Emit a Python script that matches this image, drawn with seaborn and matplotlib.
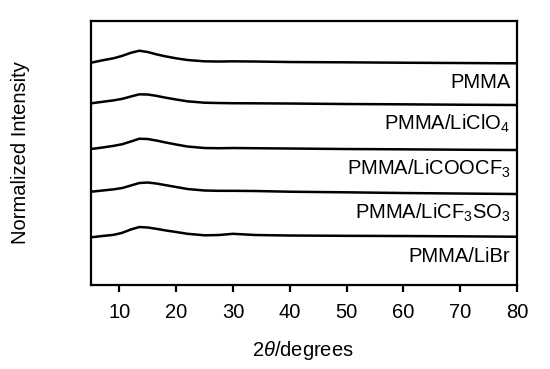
import numpy as np
import pandas as pd
import matplotlib
matplotlib.use("Agg")
import matplotlib.pyplot as plt
import seaborn as sns

# ── Data (stacked traces) ─────────────────────────────────────────────────────

TWO_THETA = [5, 7, 9, 10.5, 12, 13.5, 15, 16.5, 18, 20, 22, 25, 27.5, 30, 34,
             40, 50, 60, 70, 80]

SAMPLES = [
    "PMMA",
    "PMMA/LiClO$_4$",
    "PMMA/LiCOOCF$_3$",
    "PMMA/LiCF$_3$SO$_3$",
    "PMMA/LiBr",
]

pmma      = [222.3, 224.7, 226.8, 229.2, 232.2, 234.3, 233.0, 230.7, 228.8, 226.7,
             225.0, 223.7, 223.5, 223.7, 223.5, 223.0, 222.7, 222.3, 222.0, 221.7]
li_clo4   = [181.7, 183.2, 184.7, 186.2, 188.5, 190.7, 190.5, 189.2, 187.5, 185.5,
             183.7, 182.3, 182.0, 181.8, 181.7, 181.5, 181.0, 180.7, 180.3, 180.0]
li_coocf3 = [136.0, 137.5, 139.2, 140.8, 143.5, 146.3, 146.0, 144.5, 142.7, 140.5,
             138.5, 137.0, 136.8, 137.0, 136.8, 136.5, 136.0, 135.7, 135.3, 135.0]
li_cf3so3 = [93.3, 94.5, 95.7, 97.0, 99.5, 102.0, 102.5, 101.5, 100.0, 98.0,
             96.0, 94.5, 94.2, 94.2, 94.0, 93.3, 92.7, 92.0, 91.5, 91.0]
li_br     = [47.7, 49.0, 50.2, 52.2, 55.5, 58.0, 57.5, 56.2, 54.7, 53.0,
             51.2, 49.7, 50.0, 51.2, 50.0, 49.5, 49.2, 49.0, 48.7, 48.3]

TRACES = [pmma, li_clo4, li_coocf3, li_cf3so3, li_br]

df = pd.concat(
    [pd.DataFrame({"two_theta": TWO_THETA, "intensity": vals, "sample": name})
     for name, vals in zip(SAMPLES, TRACES)],
    ignore_index=True,
)

# ── Style ─────────────────────────────────────────────────────────────────────

sns.set_style("ticks")
plt.rcParams["font.family"] = ["Liberation Sans", "DejaVu Sans"]
plt.rcParams["mathtext.fontset"] = "custom"
plt.rcParams["mathtext.rm"] = "Liberation Sans"
plt.rcParams["mathtext.it"] = "Liberation Sans:italic"
plt.rcParams["mathtext.default"] = "regular"
plt.rcParams["text.color"] = "black"
plt.rcParams["axes.labelcolor"] = "black"

fig = plt.figure(figsize=(5.5, 3.69), dpi=100)
ax = fig.add_axes([0.1655, 0.2276, 0.7745, 0.7154])

sns.lineplot(data=df, x="two_theta", y="intensity", hue="sample",
             palette=["black"] * len(SAMPLES), legend=False,
             linewidth=1.8, ax=ax, sort=False, estimator=None)

for name, vals in zip(SAMPLES, TRACES):
    ax.text(0.984, vals[-1] - 25, name, transform=ax.get_yaxis_transform(),
            ha="right", va="baseline", fontsize=14.5, color="black")

ax.set_xlim(5, 80)
ax.set_ylim(0, 264)
ax.set_xticks([10, 20, 30, 40, 50, 60, 70, 80])
ax.set_yticks([])
ax.tick_params(axis="x", direction="out", length=5, width=1.6,
               labelsize=14.5, pad=8, colors="black")
for s in ax.spines.values():
    s.set_linewidth(1.6)
    s.set_color("black")

ax.set_xlabel(r"2$\mathit{\theta}$/degrees", fontsize=14.5)
ax.xaxis.set_label_coords(0.498, -0.205)
ax.set_ylabel("Normalized Intensity", fontsize=14.5)
ax.yaxis.set_label_coords(-0.143, 0.5)

fig.savefig("out.png", dpi=100)
plt.close(fig)
